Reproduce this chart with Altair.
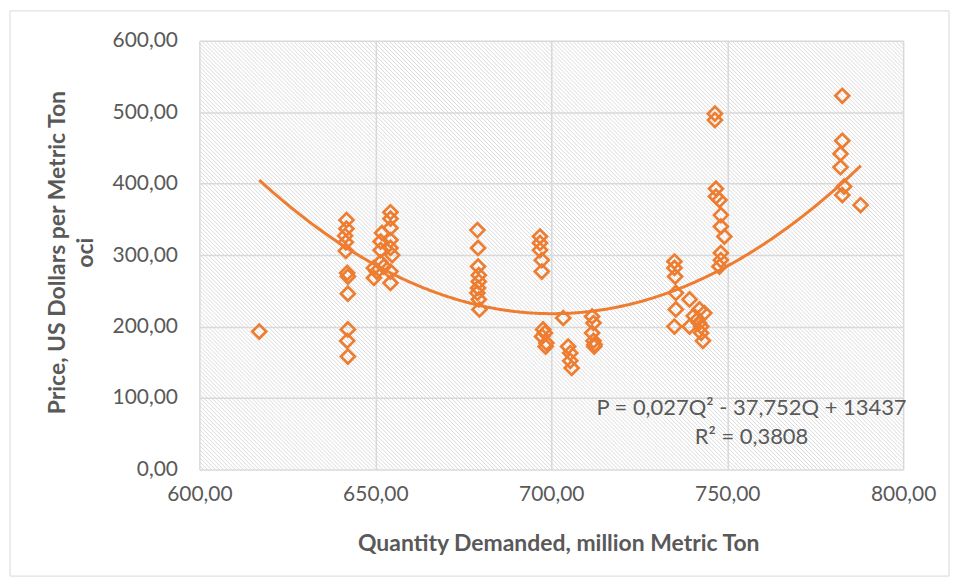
import altair as alt
import pandas as pd

# Quantity demanded (million metric tons) and price (USD per metric ton)
q_values = [
    617.0,
    641.8, 641.8, 641.4, 641.6, 641.6, 642.0, 642.2, 642.2, 642.2, 642.0, 642.2,
    649.6, 650.4, 649.6, 651.5, 651.9, 651.5, 651.5, 652.4,
    654.3, 654.3, 654.3, 654.3, 654.3, 654.3, 654.3, 654.8,
    679.0, 679.2, 679.2, 679.4, 679.4, 679.2, 679.0, 679.4, 679.6,
    696.8, 696.8, 696.8, 697.3, 697.3,
    697.7, 698.2, 697.4, 698.6, 698.4,
    703.4, 704.8, 705.4, 705.4, 705.8,
    711.6, 712.0, 711.6, 712.0, 712.3, 712.2,
    735.0, 735.0, 735.2, 735.4, 735.4, 735.0, 739.3, 739.3, 741.6, 742.1, 742.6,
    742.6, 743.1, 743.5, 740.5, 742.0,
    746.5, 746.5, 746.8, 746.8, 747.8, 748.2, 748.2, 749.2, 748.2, 748.2, 747.8,
    782.7, 782.7, 782.2, 782.2, 783.2, 782.7, 787.9,
]
p_values = [
    193,
    349, 337, 327, 318, 306, 275, 270, 246, 196, 180, 158,
    282, 277, 268, 319, 331, 307, 290, 284,
    360, 351, 338, 321, 310, 277, 261, 300,
    335, 310, 284, 272, 263, 254, 247, 238, 224,
    326, 317, 307, 293, 277,
    196, 191, 186, 177, 172,
    212, 172, 163, 152, 142,
    214, 205, 191, 180, 175, 172,
    291, 282, 270, 247, 224, 200, 238, 200, 210, 224, 200,
    191, 180, 219, 215, 205,
    498, 489, 393, 382, 377, 356, 340, 326, 303, 293, 284,
    523, 460, 442, 423, 396, 384, 370,
]

# Polynomial trendline P = a*Q^2 + b*Q + c (label shows a rounded to 0,027)
trend_a = 0.026954
trend_b = -37.752
trend_c = 13437

equation_lines = ["P = 0,027Q² - 37,752Q + 13437", "R² = 0,3808"]
equation_q = [756.9, 756.9]
equation_p = [86.5, 44.7]

x_ticks = [600, 650, 700, 750, 800]
y_ticks = [0, 100, 200, 300, 400, 500, 600]

ORANGE = "#ED7D31"
TEXT = "#595959"
FONT = "Lato"
GRID = "#d9d9d9"

W, H = 706, 430
X_DOMAIN = [600, 800]
Y_DOMAIN = [0, 600]

df = pd.DataFrame({"Q": q_values, "P": p_values})
eq_df = pd.DataFrame({"Q": equation_q, "P": equation_p, "label": equation_lines})

label_expr = "replace(format(datum.value, '.2f'), '.', ',')"

# background hatch ("\" lines every 4 px) expressed in axis units
q_per_px = (X_DOMAIN[1] - X_DOMAIN[0]) / W
run = H * q_per_px
hatch_rows = []
k = 0
while True:
    q0 = X_DOMAIN[0] - run + k * 4 * q_per_px
    if q0 > X_DOMAIN[1]:
        break
    hatch_rows.append({"Q": q0, "Q2": q0 + run, "P": Y_DOMAIN[1], "P2": Y_DOMAIN[0]})
    k += 1
hatch_df = pd.DataFrame(hatch_rows)

x_scale = alt.Scale(domain=X_DOMAIN, nice=False, zero=False)
y_scale = alt.Scale(domain=Y_DOMAIN, nice=False)

x_axis = alt.Axis(
    values=x_ticks,
    labelExpr=label_expr,
    labelFlush=False,
    titleFontWeight="bold",
    titleFontSize=23,
    titleColor=TEXT,
    titlePadding=28,
    titleX=360,
    labelFontSize=21,
    labelColor=TEXT,
    labelPadding=14,
    domain=False,
    ticks=False,
    grid=True,
    gridColor=GRID,
    gridWidth=1.5,
    labelFont=FONT,
    titleFont=FONT,
)
y_axis = alt.Axis(
    values=y_ticks,
    labelExpr=label_expr,
    labelFlush=False,
    titleFontWeight="bold",
    titleFontSize=23,
    titleColor=TEXT,
    titleX=-142,
    titleY=212,
    titleAlign="center",
    titleBaseline="middle",
    titleAngle=270,
    titleLineHeight=28,
    labelFontSize=21,
    labelColor=TEXT,
    labelPadding=22,
    domain=False,
    ticks=False,
    grid=True,
    gridColor=GRID,
    gridWidth=1.5,
    labelFont=FONT,
    titleFont=FONT,
)

X_TITLE = "Quantity Demanded, million Metric Ton"
Y_TITLE = ["Price, US Dollars per Metric Ton", "oci"]

x_enc = alt.X("Q:Q", scale=x_scale, axis=x_axis, title=X_TITLE)
y_enc = alt.Y("P:Q", scale=y_scale, axis=y_axis, title=Y_TITLE)

one = pd.DataFrame({"a": [0]})

hatch = alt.Chart(hatch_df).mark_rule(
    color="#dadada", strokeWidth=1, clip=True
).encode(x=x_enc, x2="Q2", y=y_enc, y2="P2")

frame = alt.Chart(one).mark_rect(
    fill="white", fillOpacity=0, stroke="#d9d9d9", strokeWidth=1
).encode(
    x=alt.value(-190), x2=alt.value(752), y=alt.value(-30), y2=alt.value(537)
)

points = alt.Chart(df).mark_point(
    shape="diamond", filled=False, color=ORANGE, size=195, strokeWidth=2.7, opacity=1
).encode(x=x_enc, y=y_enc)

trend = (
    alt.Chart(alt.sequence(min(q_values), max(q_values) + 0.5, 0.5, as_="Q"))
    .transform_calculate(P=f"{trend_a}*datum.Q*datum.Q + ({trend_b})*datum.Q + {trend_c}")
    .mark_line(color=ORANGE, strokeWidth=3)
    .encode(x=x_enc, y=y_enc)
)

eq_text = alt.Chart(eq_df).mark_text(
    font=FONT, fontSize=22, color=TEXT, align="center", baseline="middle"
).encode(x=x_enc, y=y_enc, text="label:N")

chart = alt.layer(hatch, frame, points, trend, eq_text).properties(
    width=W,
    height=H,
    autosize=alt.AutoSizeParams(type="none"),
    padding={"left": 192, "top": 32, "right": 50, "bottom": 110},
    background="white",
).configure_view(stroke=None, fill="white")

chart.save("out.html", embed_options={"renderer": "svg", "actions": False})
